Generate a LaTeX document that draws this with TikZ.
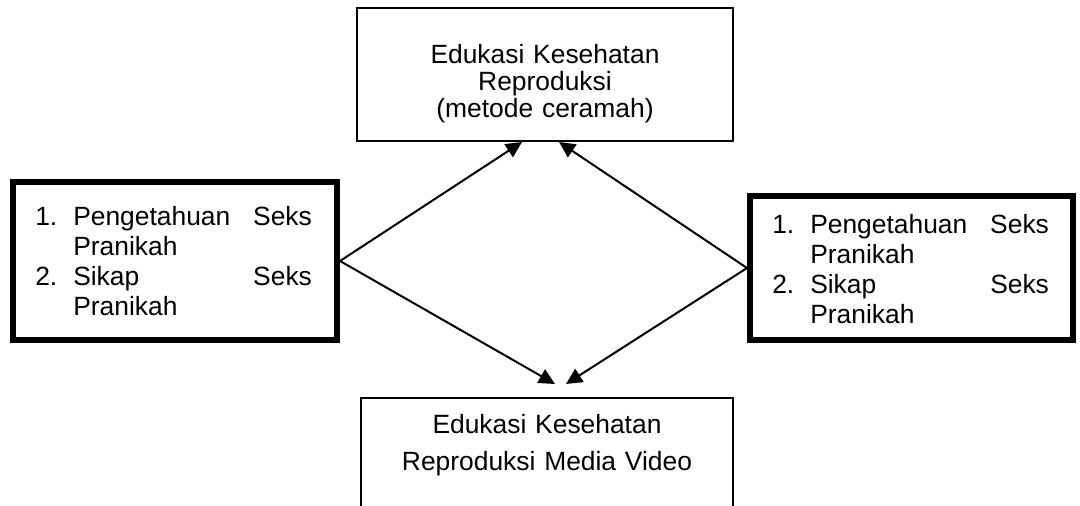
\documentclass[tikz,border=0pt]{standalone}
\usepackage{fontspec}
\setmainfont{Liberation Sans}
\usetikzlibrary{arrows.meta,fit,calc}
\tikzset{
  plainbox/.style={draw, line width=1.5pt, inner sep=0pt},
  listbox/.style={draw, line width=4.5pt, inner sep=0pt},
  boxtext/.style={inner sep=0pt, font=\fontsize{19.8pt}{20pt}\selectfont, text width=282pt, align=center, anchor=base},
  listtext/.style={inner sep=0pt, font=\fontsize{19.8pt}{22.5pt}\selectfont, text width=208pt, align=left, anchor=base west},
  link/.style={line width=1.5pt, -{Triangle[length=12pt,width=11.5pt]}}
}
\newcommand{\numcol}[1]{\makebox[28.5pt][l]{#1}}
\newcommand{\spread}[2]{\makebox[179pt][s]{#1\hfill #2}}
\begin{document}
\begin{tikzpicture}[x=0.75pt,y=-0.75pt]
\useasboundingbox (0,0) rectangle (1080,506);
\clip (0,0) rectangle (1080,506);
% boxes
\node[plainbox, fit={(357,8) (733,141)}] (T) {};
\node[plainbox, fit={(361,398) (733,540)}] (B) {};
\node[listbox, fit={(13,182) (337,340)}] (L) {};
\node[listbox, fit={(750,196) (1073,340)}] (R) {};
% texts
\node[boxtext] (Tt) at (545,64) {Edukasi Kesehatan\\Reproduksi\\(metode ceramah)};
\node[boxtext, font=\fontsize{19.8pt}{27.75pt}\selectfont] (Bt) at (547,433) {Edukasi Kesehatan\\Reproduksi Media Video};
\node[listtext] (Lt) at (35,225) {\numcol{1.}\spread{Pengetahuan}{Seks}\\
\hspace*{28.5pt}Pranikah\\
\numcol{2.}\spread{Sikap}{Seks}\\
\hspace*{28.5pt}Pranikah};
\node[listtext] (Rt) at (772,233) {\numcol{1.}\spread{Pengetahuan}{Seks}\\
\hspace*{28.5pt}Pranikah\\
\numcol{2.}\spread{Sikap}{Seks}\\
\hspace*{28.5pt}Pranikah};
% connectors
\draw[link] (L.east) -- ($(T.south)+(-23,0)$);
\draw[link] (R.west) -- ($(T.south)+(14,0)$);
\draw[link] (L.east) -- ($(B.north)+(8,-13)$);
\draw[link] (R.west) -- ($(B.north)+(19,-13)$);
\end{tikzpicture}
\end{document}
